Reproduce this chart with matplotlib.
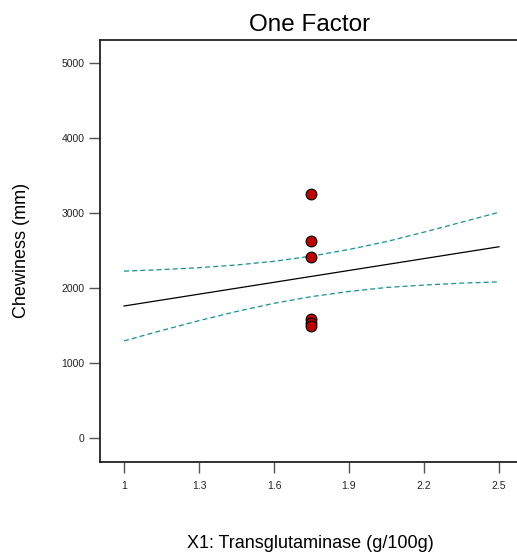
import matplotlib
matplotlib.use("Agg")
import matplotlib.pyplot as plt

plt.rcParams['font.family'] = ['Liberation Sans', 'DejaVu Sans']

# Data
x_fit = [1.0, 1.15, 1.3, 1.45, 1.6, 1.75, 1.9, 2.05, 2.2, 2.35, 2.5]
y_fit = [1760, 1839, 1918, 1997, 2076, 2155, 2234, 2313, 2392, 2471, 2550]
y_upper = [2225, 2245, 2271, 2307, 2356, 2425, 2514, 2619, 2745, 2877, 3010]
y_lower = [1295, 1433, 1565, 1687, 1796, 1885, 1954, 2007, 2039, 2065, 2082]
x_obs = [1.75, 1.75, 1.75, 1.75, 1.75, 1.75]
y_obs = [3260, 2627, 2417, 1592, 1535, 1500]
x_ticks = [1, 1.3, 1.6, 1.9, 2.2, 2.5]
x_ticklabels = ['1', '1.3', '1.6', '1.9', '2.2', '2.5']
y_ticks = [0, 1000, 2000, 3000, 4000, 5000]
y_ticklabels = ['0', '1000', '2000', '3000', '4000', '5000']

W, H = 517, 554
fig = plt.figure(figsize=(W / 100, H / 100), dpi=100)

ax = fig.add_axes([100 / W, 1 - 462 / H, 430 / W, 422 / H])
ax.set_xlim(0.904, 0.904 + 430 / 250)
ax.set_ylim(-320, 5307)

ax.plot(x_fit, y_fit, color='black', lw=0.9, zorder=3)
ax.plot(x_fit, y_upper, color='#1a9090', lw=0.9, ls=(0, (4, 2.5)), zorder=3)
ax.plot(x_fit, y_lower, color='#1a9090', lw=0.9, ls=(0, (4, 2.5)), zorder=3)
ax.scatter(x_obs, y_obs, s=60, color='#c00000', edgecolor='black', linewidth=0.8, zorder=4)

ax.spines['right'].set_visible(False)
for s in ['left', 'bottom', 'top']:
    ax.spines[s].set_linewidth(1.3)
    ax.spines[s].set_color('#222222')

ax.set_xticks(x_ticks)
ax.set_xticklabels(x_ticklabels)
ax.set_yticks(y_ticks)
ax.set_yticklabels(y_ticklabels)
ax.tick_params(axis='both', direction='out', length=8, width=1, color='#555555',
               labelsize=7.5, labelcolor='#222222', pad=3)
ax.tick_params(axis='x', pad=6)

fig.text(310 / W, 1 - 25 / H, 'One Factor', fontsize=17.5, ha='center', va='center')
fig.text(310 / W, 1 - 543 / H, 'X1: Transglutaminase (g/100g)', fontsize=13, ha='center', va='center')
fig.text(22 / W, 1 - 250 / H, 'Chewiness (mm)', fontsize=13, rotation=90, ha='center', va='center')

fig.savefig('out.png', dpi=100)
